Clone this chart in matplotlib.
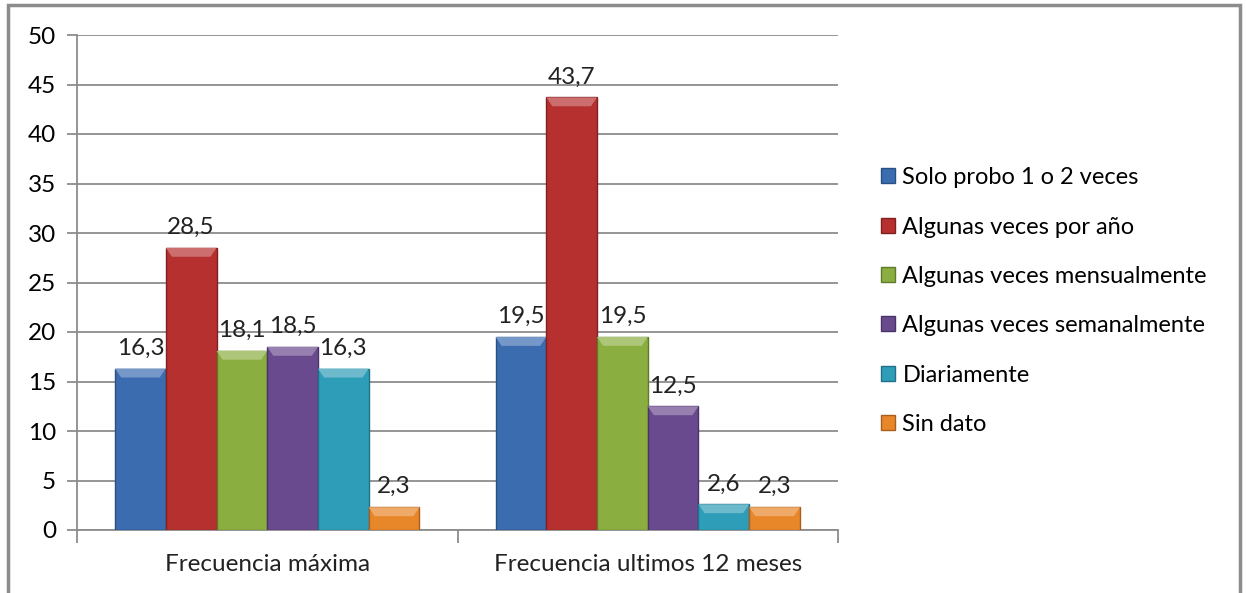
import numpy as np
import matplotlib.pyplot as plt
from matplotlib.patches import Rectangle, Polygon
from matplotlib.colors import to_rgb

categories = ['Frecuencia máxima', 'Frecuencia ultimos 12 meses']
series_names = ['Solo probo 1 o 2 veces', 'Algunas veces por año',
                'Algunas veces mensualmente', 'Algunas veces semanalmente',
                'Diariamente', 'Sin dato']
values = [
    [16.3, 19.5],
    [28.5, 43.7],
    [18.1, 19.5],
    [18.5, 12.5],
    [16.3, 2.6],
    [2.3, 2.3],
]
colors = ['#3B6CB0', '#B5302E', '#8AAE3F', '#6A4A8E', '#2E9DB8', '#E8862A']
edges = ['#2A4F82', '#80201F', '#5F7A2A', '#4A3366', '#1F7088', '#A85E1C']


def lighten(c, f):
    r, g, b = to_rgb(c)
    return (r + (1 - r) * f, g + (1 - g) * f, b + (1 - b) * f)


plt.rcParams['font.family'] = ['Lato', 'DejaVu Sans']
fs = 17.5

fig = plt.figure(figsize=(12.46, 5.93), dpi=100)
ax = fig.add_axes([77 / 1246, 1 - 530 / 593, (838 - 77) / 1246, (530 - 35) / 593])

x = np.arange(len(categories))
width = 1 / 7.5
n = len(series_names)
for i, (name, vals) in enumerate(zip(series_names, values)):
    pos = x + (i - (n - 1) / 2) * width
    bars = ax.bar(pos, vals, width, color=colors[i], edgecolor=edges[i],
                  linewidth=1, label=name, zorder=3)
    for b, v in zip(bars, vals):
        x0, w = b.get_x(), b.get_width()
        # light bevel on the top of each bar
        bh = min(0.9, v * 0.4)
        inset = w * 0.12
        ax.add_patch(Polygon([(x0, v), (x0 + w, v), (x0 + w - inset, v - bh),
                              (x0 + inset, v - bh)], closed=True,
                             facecolor=lighten(colors[i], 0.3), edgecolor='none',
                             zorder=4))
        ax.text(x0 + w / 2, v + 1.0, f'{v:.1f}'.replace('.', ','),
                ha='center', va='bottom', fontsize=fs, color='#222222')

ax.set_xlim(-0.5, 1.5)
ax.set_ylim(0, 50)
ax.set_yticks(range(0, 51, 5))
ax.yaxis.grid(True, color='#8C8C8C', linewidth=1.3, zorder=0)
ax.set_axisbelow(True)
for s in ['top', 'right']:
    ax.spines[s].set_visible(False)
for s in ['left', 'bottom']:
    ax.spines[s].set_color('#8C8C8C')
    ax.spines[s].set_linewidth(1.3)

# category separators as ticks
ax.set_xticks([-0.5, 0.5, 1.5])
ax.set_xticklabels([])
ax.tick_params(axis='x', length=9, color='#8C8C8C', width=1.3)
ax.tick_params(axis='y', length=7, color='#8C8C8C', width=1.3, labelsize=fs, pad=8)
for xi, c in zip(x, categories):
    ax.text(xi, -3.5, c, ha='center', va='center', fontsize=fs, color='#222222')

fig.legend(loc='center left', bbox_to_anchor=(860 / 1246, 1 - 301 / 593),
           frameon=False, fontsize=17, handlelength=0.6, handleheight=0.6,
           handletextpad=0.3, labelspacing=1.2)

fig.patches.append(Rectangle((8 / 1246, -0.1), (1240 - 8) / 1246, 1.1 - 5 / 593,
                             transform=fig.transFigure, fill=False,
                             edgecolor='#8C8C8C', linewidth=2.5))

fig.savefig('out.png', dpi=100)
